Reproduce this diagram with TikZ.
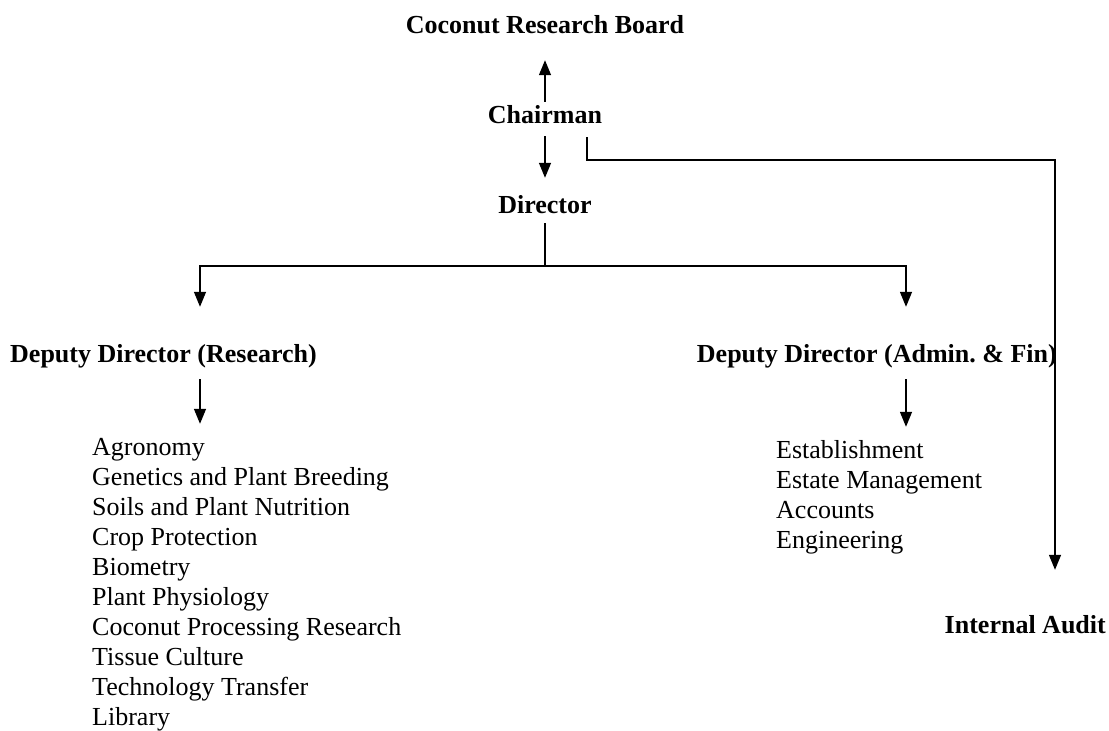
\documentclass[tikz,border=0pt]{standalone}
\usepackage{fontspec}
\setmainfont{Liberation Serif}
\usetikzlibrary{arrows.meta,calc}
\begin{document}
\begin{tikzpicture}[x=1pt,y=-1pt,
  txt/.style={inner sep=0pt,text height=18pt,text depth=6pt,font=\fontsize{26}{30}\selectfont},
  head/.style={txt,font=\fontsize{26}{30}\selectfont\bfseries},
  item/.style={txt,anchor=base west},
  conn/.style={line width=1.4pt},
  arr/.style={conn,-{Triangle[width=12pt,length=15pt]}}]
\useasboundingbox (0,0) rectangle (1109,731);
% headings
\node[head,anchor=base] (board) at (545,33) {Coconut Research Board};
\node[head,anchor=base] (chair) at (545,123) {Chairman};
\node[head,anchor=base] (dir) at (545,213) {Director};
\node[head,anchor=base west] (ddr) at (10,362) {Deputy Director (Research)};
\node[head,anchor=base east] (dda) at (1057,362) {Deputy Director (Admin.\ \& Fin)};
\node[head,anchor=base east] (audit) at (1106,633) {Internal Audit};
% lists
\foreach \t [count=\i] in {Agronomy,Genetics and Plant Breeding,Soils and Plant Nutrition,Crop Protection,Biometry,Plant Physiology,Coconut Processing Research,Tissue Culture,Technology Transfer,Library}
  \node[item] (r\i) at (92,{455+30*(\i-1)}) {\t};
\foreach \t [count=\i] in {Establishment,Estate Management,Accounts,Engineering}
  \node[item] (a\i) at (776,{458+30*(\i-1)}) {\t};
% coordinates
\coordinate (split) at (545,266);
\coordinate (lc) at (200,266);
\coordinate (rc) at (906,266);
\coordinate (ca) at (587,137);
\coordinate (cr) at (1055,160);
% connectors
\draw[arr,shorten <=3pt,shorten >=21pt] (chair.north) -- (board.south);
\draw[arr,shorten <=7pt,shorten >=17pt] (chair.south) -- (dir.north);
\draw[conn,shorten <=4pt] (dir.south) -- (split);
\draw[arr,shorten >=37pt] (split) -- (lc) -- (lc |- ddr.north);
\draw[arr,shorten >=37pt] (split) -- (rc) -- (rc |- dda.north);
\draw[arr,shorten <=11pt,shorten >=13pt] (ddr.south -| lc) -- (r1.north -| lc);
\draw[arr,shorten <=11pt,shorten >=13pt] (dda.south -| rc) -- (a1.north -| rc);
\draw[arr,shorten >=45pt] (ca) |- (cr) -- (cr |- audit.north);
\end{tikzpicture}
\end{document}
